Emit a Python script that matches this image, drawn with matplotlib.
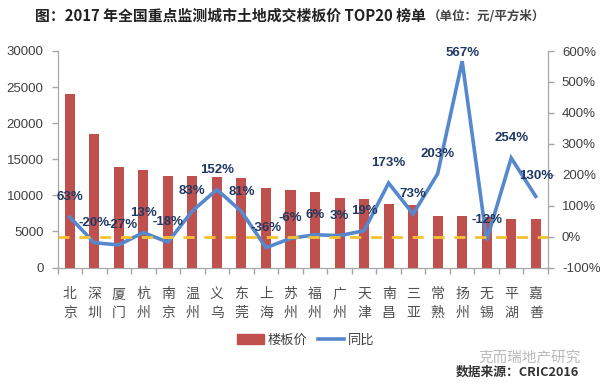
import matplotlib
matplotlib.use('Agg')
import matplotlib.pyplot as plt
from matplotlib.lines import Line2D
from matplotlib.patches import Patch

plt.rcParams['font.family'] = ['Noto Sans CJK SC', 'DejaVu Sans']

cities = ['北\n京', '深\n圳', '厦\n门', '杭\n州', '南\n京', '温\n州', '义\n乌', '东\n莞', '上\n海', '苏\n州',
          '福\n州', '广\n州', '天\n津', '南\n昌', '三\n亚', '常\n熟', '扬\n州', '无\n锡', '平\n湖', '嘉\n善']
price = [24000, 18500, 13900, 13500, 12700, 12700, 12500, 12400, 11000, 10800,
         10500, 9600, 9500, 8800, 8600, 7200, 7200, 7000, 6700, 6700]
yoy = [63, -20, -27, 13, -18, 83, 152, 81, -36, -6, 6, 3, 19, 173, 73, 203, 567, -12, 254, 130]
left_ticks = [0, 5000, 10000, 15000, 20000, 25000, 30000]
right_ticks = [-100, 0, 100, 200, 300, 400, 500, 600]

W, H = 600, 385
fig = plt.figure(figsize=(6, 3.85), dpi=100)
ax = fig.add_axes([57.5 / W, 1 - 267.5 / H, 490.5 / W, 216.5 / H])
ax2 = ax.twinx()

x = list(range(len(cities)))
ax.bar(x, price, width=0.41, color='#C0504D', zorder=2)
ax.set_xlim(-0.5, 19.5)
ax.set_ylim(0, 30000)
ax.set_yticks(left_ticks)
ax.tick_params(axis='y', length=4, width=1, color='#A6A6A6', labelcolor='#404040', labelsize=9.5, pad=6)
for t in ax.get_yticklabels():
    t.set_family(['Liberation Sans'])

# ticks sit between the categories, labels under the centres
ax.set_xticks([i - 0.5 for i in range(21)])
ax.set_xticklabels([])
ax.tick_params(axis='x', length=4, width=1, color='#A6A6A6')
for i, c in enumerate(cities):
    ax.annotate(c, xy=(i, 0), xycoords=('data', 'axes fraction'), xytext=(0, -14), textcoords='offset points',
                ha='center', va='top', fontsize=10, color='#505050', linespacing=1.42)

ax2.set_ylim(-100, 600)
ax2.set_yticks(right_ticks)
ax2.set_yticklabels(['%d%%' % v for v in right_ticks], family=['Liberation Sans'])
ax2.tick_params(axis='y', length=4, width=1, color='#A6A6A6', labelcolor='#404040', labelsize=9.5, pad=6)
ax2.plot(x, yoy, color='#5588CC', lw=2.6, solid_joinstyle='miter', zorder=4)
ax2.axhline(0, color='#F5C233', lw=2, dashes=(4, 3.5), zorder=5)

for a in (ax, ax2):
    a.spines['top'].set_visible(False)
    for s in ('left', 'right', 'bottom'):
        a.spines[s].set_color('#A6A6A6')

# labels stand about 20px over their points, 567% is pushed down under the title, -27% nudged right
for i, v in enumerate(yoy):
    up = 6 if v == 567 else 14.4
    side = 2.5 if v == -27 else 0
    ax2.annotate('%d%%' % v, xy=(i, v), xytext=(side, up), textcoords='offset points', ha='center', va='center',
                 fontsize=9.5, fontweight='bold', color='#1F3864', family=['Liberation Sans'], zorder=6)

fig.legend(handles=[Patch(color='#C0504D', label='楼板价'),
                    Line2D([0], [0], color='#5588CC', lw=2.6, label='同比')],
           loc='center', bbox_to_anchor=(306 / W, 1 - 340 / H), ncol=2, frameon=False, fontsize=9.5,
           labelcolor='#404040', handlelength=2.0, handletextpad=0.3, columnspacing=0.8, borderpad=0)

fig.text(35 / W, 1 - 16 / H, '图：2017 年全国重点监测城市土地成交楼板价 TOP20 榜单', fontsize=10.7, fontweight='bold',
         color='#222222', va='center')
fig.text(428 / W, 1 - 17 / H, '（单位：元/平方米）', fontsize=9, fontweight='bold', color='#444444', va='center')
fig.text(581 / W, 1 - 358 / H, '克而瑞地产研究', fontsize=10.5, color='#BBBBBB', ha='right', va='center')
fig.text(579 / W, 1 - 372 / H, '数据来源：CRIC2016', fontsize=9.2, fontweight='bold', color='#333333', ha='right', va='center')

fig.savefig('out.png', dpi=100)
